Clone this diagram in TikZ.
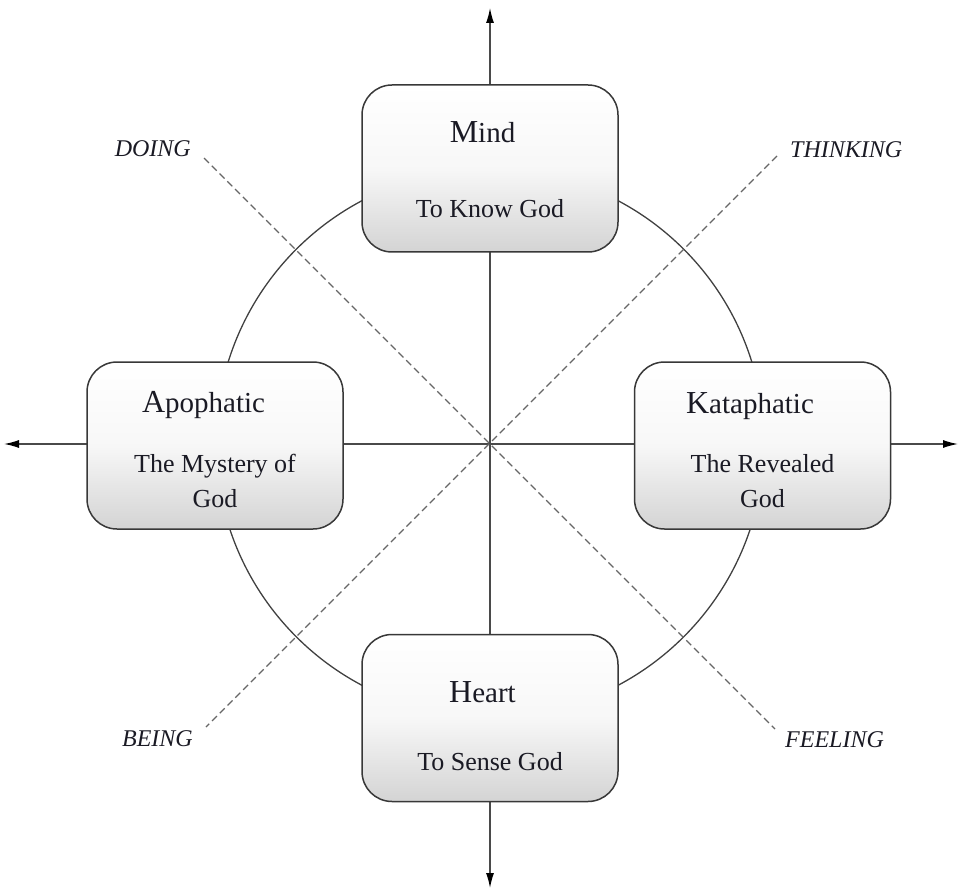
\documentclass[tikz,border=0pt]{standalone}
\usepackage{fontspec}
\setmainfont{Liberation Serif}
\usetikzlibrary{arrows.meta,backgrounds}
\definecolor{txt}{HTML}{1A1A24}
\definecolor{ln}{HTML}{4A4A4A}
\begin{document}
\begin{tikzpicture}[x=1pt,y=-1pt,
  box/.style={draw=black!78, line width=1.5pt, rounded corners=30pt,
    minimum width=256pt, minimum height=167pt, inner sep=0pt,
    top color=white, bottom color=black!17, middle color=white!97!black},
  ttl/.style={anchor=base, text=txt, inner sep=0pt},
  sub/.style={anchor=base, text=txt, inner sep=0pt, font=\fontsize{26}{35}\selectfont},
  lbl/.style={text=txt, inner sep=0pt, font=\fontsize{24}{28}\selectfont\itshape},
  axis/.style={draw=ln, line width=1.3pt, {Latex[length=15pt,width=8pt,black]}-{Latex[length=15pt,width=8pt,black]}},
  diag/.style={draw=black!60, line width=1.2pt, dash pattern=on 7pt off 4pt},
  ring/.style={draw=black!75, line width=1.3pt}
]
\useasboundingbox (0,0) rectangle (960,890);

% boxes
\node[box] (mind) at (490,168.5) {};
\node[box] (heart) at (490,718) {};
\node[box] (apo) at (215,445.5) {};
\node[box] (kata) at (762.5,445.5) {};

% texts
\node[ttl] (mindT) at (482.5,143) {\fontsize{32}{32}\selectfont M\fontsize{29}{29}\selectfont ind};
\node[sub] (mindS) at (490,218) {To Know God};
\node[ttl] (heartT) at (482.5,702) {\fontsize{32}{32}\selectfont H\fontsize{29}{29}\selectfont eart};
\node[sub] (heartS) at (490,770) {To Sense God};
\node[ttl] (apoT) at (203.5,412) {\fontsize{32}{32}\selectfont A\fontsize{29}{29}\selectfont pophatic};
\node[sub] (apoS1) at (215,472) {The Mystery of};
\node[sub] (apoS2) at (215,507) {God};
\node[ttl] (kataT) at (750,413) {\fontsize{32}{32}\selectfont K\fontsize{29}{29}\selectfont ataphatic};
\node[sub] (kataS1) at (762.5,472) {The Revealed};
\node[sub] (kataS2) at (762.5,507) {God};

% diagonal labels
\node[lbl, anchor=base east] (doing) at (191,157) {DOING};
\node[lbl, anchor=base west] (thinking) at (790,158) {THINKING};
\node[lbl, anchor=base east] (being) at (193,746) {BEING};
\node[lbl, anchor=base west] (feeling) at (785,747) {FEELING};

% coordinates
\coordinate (c) at (490,443);
\coordinate (topE) at (490,8);
\coordinate (botE) at (490,888);
\coordinate (leftE) at (4,444);
\coordinate (rightE) at (958,444);
\coordinate (dA) at (204,158);
\coordinate (dB) at (775,729);
\coordinate (tA) at (777,156);
\coordinate (tB) at (206,727);

\begin{scope}[on background layer]
  \draw[ring] (c) circle[radius=274];
  \draw[axis] (topE) -- (botE);
  \draw[axis] (leftE) -- (rightE);
  \draw[diag] (dA) -- (dB);
  \draw[diag] (tA) -- (tB);
\end{scope}
\end{tikzpicture}
\end{document}
